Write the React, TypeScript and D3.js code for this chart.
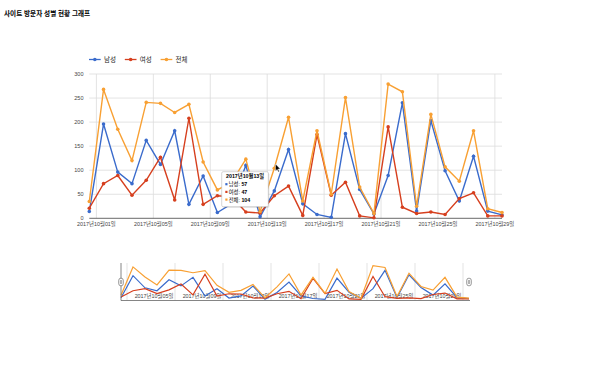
import React from 'react';
import * as d3 from 'd3';

const TITLE = '사이트 방문자 성별 현황 그래프';
const dates = [
  '2017-09-30', '2017-10-01', '2017-10-02', '2017-10-03', '2017-10-04', '2017-10-05',
  '2017-10-06', '2017-10-07', '2017-10-08', '2017-10-09', '2017-10-10', '2017-10-11',
  '2017-10-12', '2017-10-13', '2017-10-14', '2017-10-15', '2017-10-16', '2017-10-17',
  '2017-10-18', '2017-10-19', '2017-10-20', '2017-10-21', '2017-10-22', '2017-10-23',
  '2017-10-24', '2017-10-25', '2017-10-26', '2017-10-27', '2017-10-28', '2017-10-29',
];
const seriesNames = ['남성', '여성', '전체'];
const seriesColors = ['#3a6bcc', '#d63f1e', '#f8a033'];
const male = [14, 196, 96, 72, 162, 112, 182, 29, 88, 12, 30, 110, 3, 57, 143, 30, 8, 2, 176, 60, 9, 89, 240, 15, 203, 99, 36, 129, 15, 7];
const female = [21, 72, 89, 48, 79, 127, 38, 208, 29, 47, 45, 13, 11, 47, 67, 6, 174, 48, 75, 5, 1, 190, 23, 10, 13, 8, 41, 53, 5, 5];
const total = [35, 268, 185, 120, 241, 239, 220, 237, 117, 59, 75, 123, 14, 104, 210, 36, 182, 50, 251, 65, 10, 279, 263, 25, 216, 107, 77, 182, 20, 12];
const yTicks = [0, 50, 100, 150, 200, 250, 300];
const tooltipIndex = 13;

const FONT = "'Liberation Sans', Arial, 'Noto Sans CJK KR', sans-serif";

export default function App() {
  const parse = d3.timeParse('%Y-%m-%d');
  const xs = dates.map((d) => d3.timeHour.offset(parse(d) as Date, 12));
  const series = [male, female, total];
  const fmt = d3.timeFormat('%Y년%m월%d일');

  const x = d3.scaleTime().domain([xs[0], xs[xs.length - 1]]).range([89.3, 502]);
  const y = d3.scaleLinear().domain([0, 300]).range([218.3, 74]);
  const xTicks = x.ticks(d3.timeDay.every(4) as any);

  const nx = d3.scaleTime().domain([xs[0], xs[xs.length - 1]]).range([121, 469]);
  const ny = d3.scaleLinear().domain([0, 300]).range([299.5, 263]);

  const line = (vals: number[]) =>
    d3.line<number>().x((_, i) => x(xs[i])).y((v) => y(v))(vals) || '';
  const nline = (vals: number[]) =>
    d3.line<number>().x((_, i) => nx(xs[i])).y((v) => ny(v))(vals) || '';

  const tx = 221.7, ty = 171.7, tw = 46.6, th = 35;

  return (
    <svg width={600} height={375} style={{ position: 'absolute', left: 0, top: 0, fontFamily: FONT }}>
      <rect width={600} height={375} fill="#fff" />
      <text x={4} y={16.3} fontSize={6.6} fontWeight="bold" fill="#000">{TITLE}</text>

      {/* legend */}
      {seriesNames.map((n, i) => {
        const lx = 89 + i * 35.8;
        return (
          <g key={n}>
            <line x1={lx} x2={lx + 11.7} y1={59.5} y2={59.5} stroke={seriesColors[i]} strokeWidth={1.3} />
            <circle cx={lx + 5.85} cy={59.5} r={1.8} fill={seriesColors[i]} />
            <text x={lx + 15} y={61.8} fontSize={6.5} fill="#222">{n}</text>
          </g>
        );
      })}

      {/* grid */}
      {yTicks.map((t) => (
        <g key={t}>
          {t !== 0 && <line x1={89.3} x2={502} y1={y(t)} y2={y(t)} stroke="#dcdcdc" strokeWidth={0.8} />}
          <text x={83.5} y={y(t) + 1.9} fontSize={5.5} textAnchor="end" fill="#444">{t}</text>
        </g>
      ))}
      {xTicks.map((t) => (
        <g key={+t}>
          <line x1={x(t)} x2={x(t)} y1={74} y2={218.3} stroke="#dcdcdc" strokeWidth={0.8} />
          <text x={x(t)} y={226} fontSize={5.4} textAnchor="middle" fill="#444">{fmt(t)}</text>
        </g>
      ))}
      <line x1={89.3} x2={502} y1={y(0)} y2={y(0)} stroke="#444" strokeWidth={0.8} />

      {/* series */}
      {series.map((vals, si) => (
        <g key={si}>
          <path d={line(vals)} fill="none" stroke={seriesColors[si]} strokeWidth={1.4} />
          {vals.map((v, i) => (
            <circle key={i} cx={x(xs[i])} cy={y(v)} r={1.8} fill={seriesColors[si]} />
          ))}
        </g>
      ))}

      {/* tooltip */}
      <rect x={tx + 1} y={ty + 1} width={tw} height={th} rx={1.5} fill="#000" opacity={0.12} />
      <rect x={tx} y={ty} width={tw} height={th} rx={1.5} fill="#fff" stroke="#bbb" strokeWidth={0.6} />
      <text x={tx + 4.3} y={ty + 6.2} fontSize={5.3} fontWeight="bold" fill="#000">{fmt(xs[tooltipIndex])}</text>
      {seriesNames.map((n, i) => (
        <g key={n}>
          <rect x={tx + 3.6} y={ty + 11.4 + i * 7.7} width={2.2} height={2.2} fill={seriesColors[i]} />
          <text x={tx + 7} y={ty + 14.4 + i * 7.7} fontSize={5.3} fill="#000">
            {n}: <tspan fontWeight="bold">{series[i][tooltipIndex]}</tspan>
          </text>
        </g>
      ))}
      {/* cursor */}
      <path d="M275.5,164 L275.5,171 L277.2,169.4 L278.4,172 L279.3,171.6 L278.1,169 L280.3,169 Z" fill="#000" stroke="#fff" strokeWidth={0.4} />

      {/* navigator */}
      {xTicks.map((t, i) => (
        <g key={'n' + +t}>
          <line x1={nx(t)} x2={nx(t)} y1={263} y2={300.5} stroke="#dcdcdc" strokeWidth={0.8} />
          {i > 0 && (
            <text x={nx(t) - 1.5} y={298.3} fontSize={5.4} textAnchor="end" fill="#444">{fmt(t)}</text>
          )}
        </g>
      ))}
      {series.map((vals, si) => (
        <path key={'nl' + si} d={nline(vals)} fill="none" stroke={seriesColors[si]} strokeWidth={1.2} />
      ))}
      <line x1={121} x2={121} y1={263} y2={300.5} stroke="#666" strokeWidth={0.8} />
      <line x1={121} x2={470} y1={300.5} y2={300.5} stroke="#666" strokeWidth={0.8} />
      {[121, 469].map((hx) => (
        <g key={'h' + hx}>
          <rect x={hx - 2.3} y={278.2} width={4.6} height={7.6} rx={2.2} fill="#fff" stroke="#555" strokeWidth={0.6} />
          <line x1={hx - 0.6} x2={hx - 0.6} y1={280} y2={284} stroke="#555" strokeWidth={0.5} />
          <line x1={hx + 0.6} x2={hx + 0.6} y1={280} y2={284} stroke="#555" strokeWidth={0.5} />
        </g>
      ))}
    </svg>
  );
}
